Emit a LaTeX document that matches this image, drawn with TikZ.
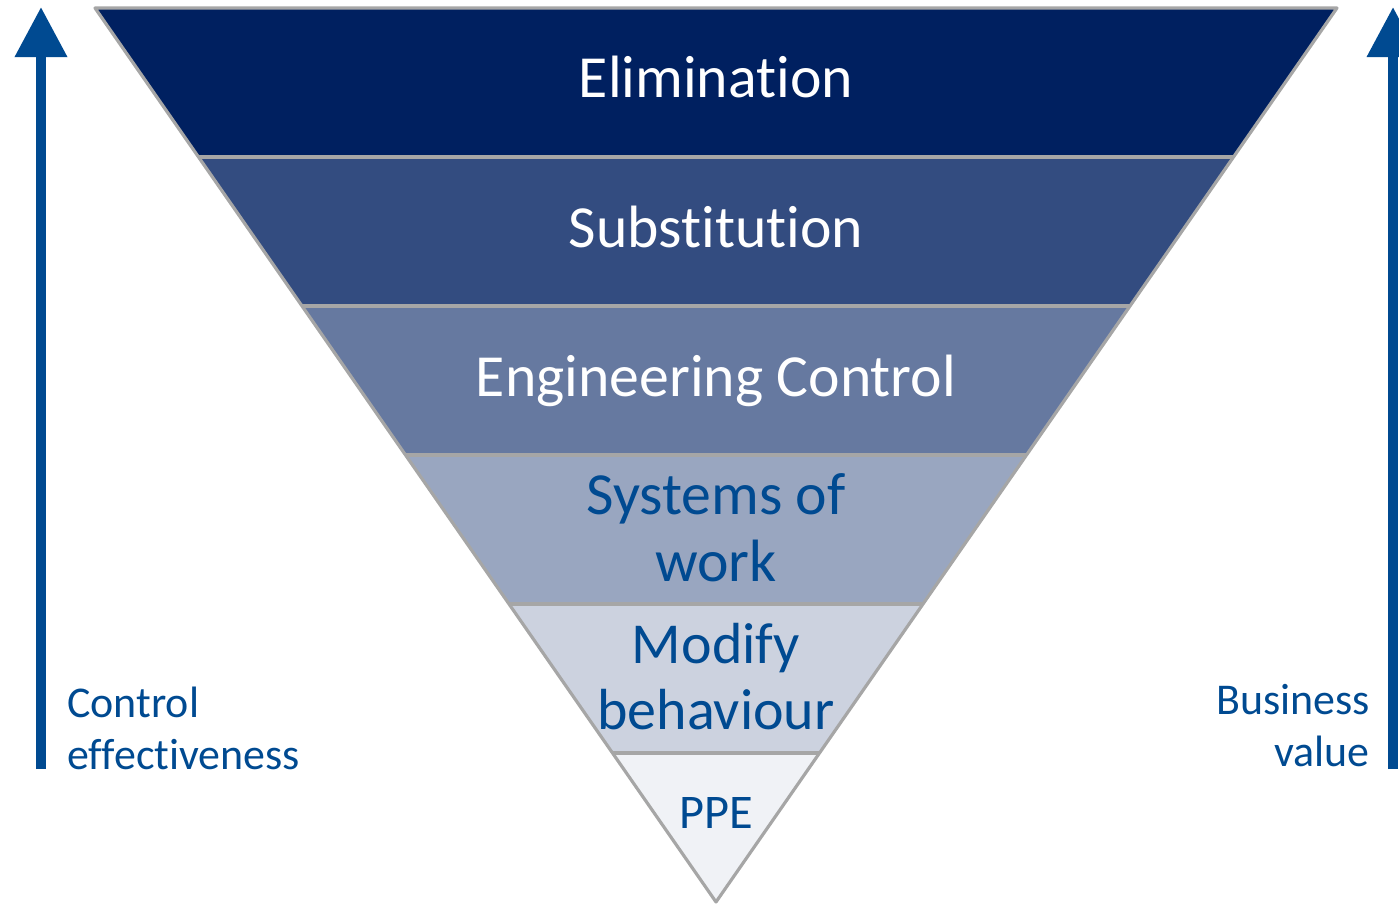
\documentclass[tikz,border=0pt]{standalone}
\usepackage{fontspec}
\setmainfont{Carlito}[Ligatures=NoCommon]
\usetikzlibrary{calc, arrows.meta}

\definecolor{navy}{RGB}{0,32,96}
\definecolor{inkblue}{RGB}{0,74,145}
\definecolor{rimgray}{RGB}{166,166,166}

\tikzset{
	rim/.style={draw=rimgray, line width=1.8pt, line join=round},
	lbl/.style={anchor=base, align=center, font=\fontsize{34}{38}\selectfont},
	side/.style={anchor=base west, align=left, inner xsep=0pt, text=inkblue, font=\fontsize{25}{29.5}\selectfont},
	uparrow/.style={draw=inkblue, line width=5.7pt, -{Triangle[width=28.5pt, length=28.5pt]}}
}

\begin{document}
\begin{tikzpicture}[x=0.02cm, y=-0.02cm]
		\useasboundingbox (0,0) rectangle (1399,905);
		\coordinate (tl) at (95, 8);
		\coordinate (tr) at (1337, 8);
		\coordinate (apex) at (716, 902);
		\foreach \k in {0,...,6} {
			\coordinate (l\k) at ($(tl)!\k/6!(apex)$);
			\coordinate (r\k) at ($(tr)!\k/6!(apex)$);
		}
		% bands, darkest on top
		\fill[navy] (l0) -- (r0) -- (r1) -- (l1) -- cycle;
		\fill[navy!80!white] (l1) -- (r1) -- (r2) -- (l2) -- cycle;
		\fill[navy!60!white] (l2) -- (r2) -- (r3) -- (l3) -- cycle;
		\fill[navy!40!white] (l3) -- (r3) -- (r4) -- (l4) -- cycle;
		\fill[navy!20!white] (l4) -- (r4) -- (r5) -- (l5) -- cycle;
		\fill[navy!6!white] (l5) -- (r5) -- (apex) -- cycle;
		\draw[rim] (l1) -- (r1);
		\draw[rim] (l2) -- (r2);
		\draw[rim] (l3) -- (r3);
		\draw[rim] (l4) -- (r4);
		\draw[rim] (l5) -- (r5);
		\draw[rim] (tl) -- (tr) -- (apex) -- cycle;
		% labels (multi-line ones sit on their last baseline)
		\node[lbl, text=white] (elim) at (716, 98) {Elimination};
		\node[lbl, text=white] (subst) at (716, 248) {Substitution};
		\node[lbl, text=white] (eng) at (716, 397) {Engineering Control};
		\node[lbl, text=inkblue] (sow) at (716, 581) {Systems of\\work};
		\node[lbl, text=inkblue, font=\fontsize{33}{37}\selectfont] (modb) at (716, 729) {Modify\\behaviour};
		\node[lbl, text=inkblue, font=\fontsize{27.5}{30}\selectfont] (ppe) at (716, 828) {PPE};
		% side arrows
		\coordinate (ceBot) at (41, 769);
		\coordinate (ceTop) at (41, 7);
		\coordinate (bvBot) at (1393, 769);
		\coordinate (bvTop) at (1393, 7);
		\draw[uparrow] (ceBot) -- (ceTop);
		\draw[uparrow] (bvBot) -- (bvTop);
		\node[side] (ce) at (67, 769) {Control\\effectiveness};
		\node[side, anchor=base east, align=right] (bv) at (1370, 766) {Business\\value};
	\end{tikzpicture}
\end{document}
